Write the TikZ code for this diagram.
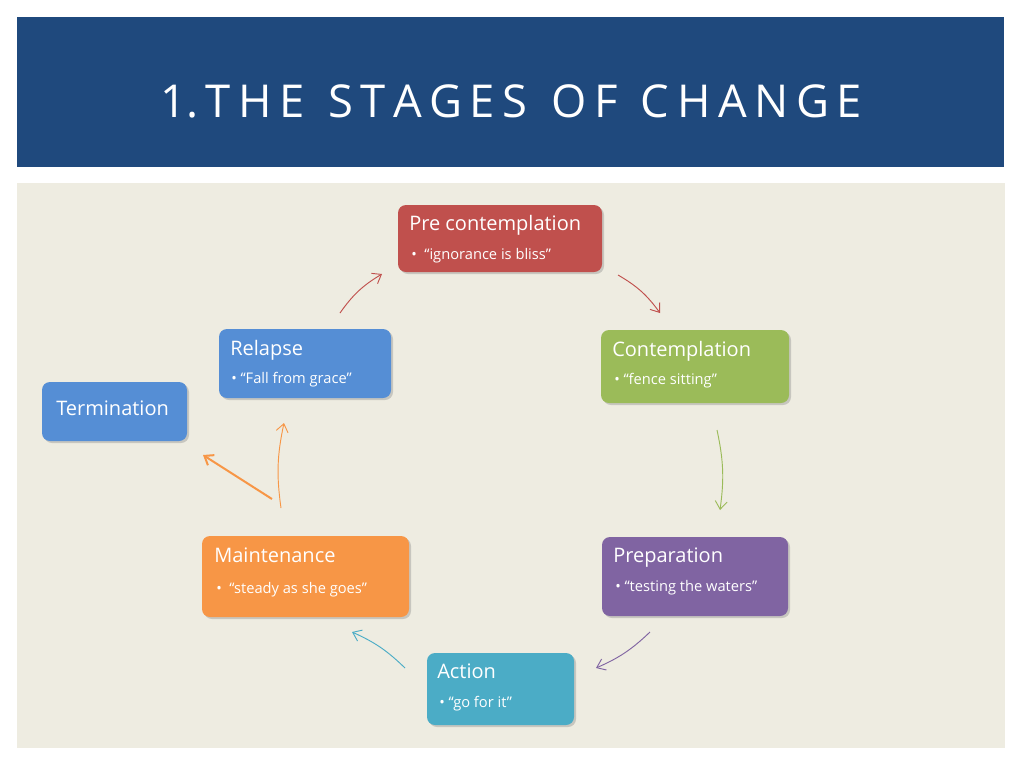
\documentclass[tikz,border=0pt]{standalone}
\usepackage{fontspec}
\setmainfont{Open Sans}
\usetikzlibrary{arrows.meta,shadows,calc}
\definecolor{band}{HTML}{1F497D}
\definecolor{bg}{HTML}{EEECE1}
\definecolor{cred}{HTML}{C0504D}
\definecolor{cgreen}{HTML}{9BBB59}
\definecolor{cpurple}{HTML}{8064A2}
\definecolor{cteal}{HTML}{4BACC6}
\definecolor{corange}{HTML}{F79646}
\definecolor{cblue}{HTML}{558ED5}
\tikzset{
  stagebox/.style={draw=none,rounded corners=6pt,drop shadow={shadow xshift=1.5pt,shadow yshift=-1.5pt,opacity=0.35}},
  head/.style={anchor=north west,text=white,font=\fontsize{15}{18}\selectfont,inner sep=0pt},
  bul/.style={anchor=north west,text=white,font=\fontsize{11}{13}\selectfont,inner sep=0pt},
  arr/.style={-{Straight Barb[length=6pt,width=9pt]},line width=0.7pt}
}
\begin{document}
\begin{tikzpicture}[x=0.75pt,y=-0.75pt]
\useasboundingbox (0,0) rectangle (1024,768);
\fill[white] (0,0) rectangle (1024,768);
\fill[band] (17,17) rectangle (1004,167);
\node[text=white,font=\fontsize{34}{40}\selectfont,inner sep=0pt] (title) at (511,101) {1.\,T\,H\,E\ \ S\,T\,A\,G\,E\,S\ \ O\,F\ \ C\,H\,A\,N\,G\,E};
\fill[bg] (17,183) rectangle (1005,748);
% boxes
\fill[stagebox,cred] (398,205) rectangle (602,272);
\fill[stagebox,cgreen] (601,330) rectangle (789,403);
\fill[stagebox,cpurple] (602,537) rectangle (788,616);
\fill[stagebox,cteal] (427,653) rectangle (574,725);
\fill[stagebox,corange] (202,536) rectangle (409,617);
\fill[stagebox,cblue] (219,329) rectangle (391,398);
\fill[stagebox,cblue] (42,382) rectangle (187,441);
% texts
\node[head] (pch) at (409,215) {Pre contemplation};
\node[bul] (pcb) at (411,248) {•\ \ “ignorance is bliss”};
\node[head] (ch) at (612,341) {Contemplation};
\node[bul] (cb) at (614,373) {• “fence sitting”};
\node[head] (ph) at (613,548) {Preparation};
\node[bul] (pb) at (615,580) {• “testing the waters”};
\node[head] (ah) at (437,664) {Action};
\node[bul] (ab) at (439,696) {• “go for it”};
\node[head] (mh) at (214,548) {Maintenance};
\node[bul] (mb) at (216,582) {•\ \ “steady as she goes”};
\node[head] (rh) at (230,340) {Relapse};
\node[bul] (rb) at (231,372) {• “Fall from grace”};
\node[head] (th) at (56,401) {Termination};
% arrows
\coordinate (a1s) at (340,313); \coordinate (a1e) at (382,274);
\coordinate (a2s) at (618,275); \coordinate (a2e) at (660,313);
\coordinate (a3s) at (717,430); \coordinate (a3e) at (720,510);
\coordinate (a4s) at (650,632); \coordinate (a4e) at (596,668);
\coordinate (a5s) at (405,668); \coordinate (a5e) at (352,632);
\coordinate (a6s) at (281,508); \coordinate (a6e) at (284,423);
\coordinate (a7s) at (272,499); \coordinate (a7e) at (203,455);
\draw[arr,cred] (a1s) to[bend left=12] (a1e);
\draw[arr,cred] (a2s) to[bend left=12] (a2e);
\draw[arr,cgreen] (a3s) to[bend left=10] (a3e);
\draw[arr,cpurple] (a4s) to[bend left=10] (a4e);
\draw[arr,cteal] (a5s) to[bend right=10] (a5e);
\draw[arr,corange] (a6s) to[bend left=10] (a6e);
\draw[arr,corange,line width=1.5pt] (a7s) -- (a7e);
\end{tikzpicture}
\end{document}
